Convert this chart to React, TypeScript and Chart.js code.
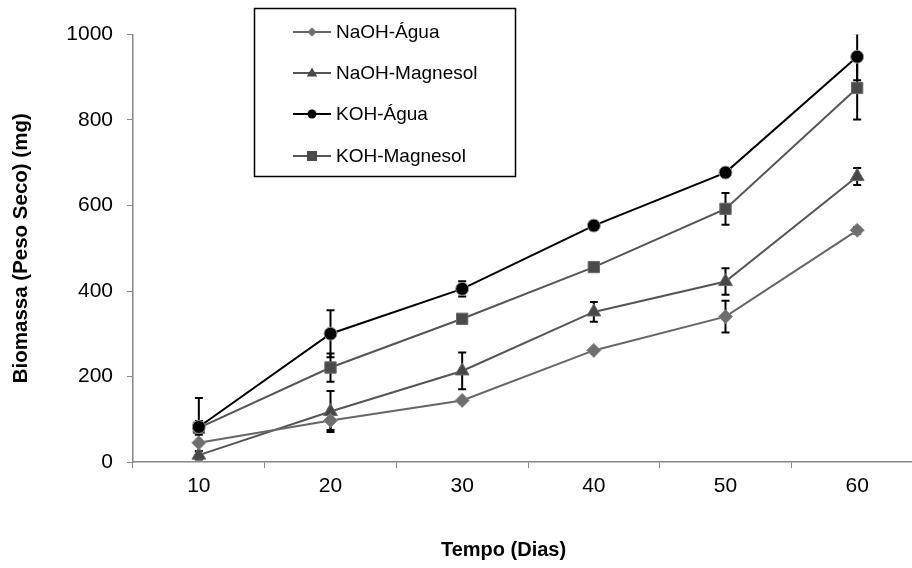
import React, { useEffect, useRef } from "react";
import { Chart, registerables } from "chart.js";

Chart.register(...registerables);

const days = ["10", "20", "30", "40", "50", "60"];
const yTicks = [0, 200, 400, 600, 800, 1000];

const naohAgua = [45, 97, 144, 261, 340, 542];
const naohAguaErr = [0, 22, 0, 0, 37, 8];
const naohMagnesol = [16, 118, 213, 351, 422, 668];
const naohMagnesolErr = [10, 48, 43, 23, 31, 20];
const kohAgua = [82, 300, 405, 553, 677, 948];
const kohAguaErr = [68, 55, 18, 10, 10, 55];
const kohMagnesol = [80, 221, 335, 456, 592, 875];
const kohMagnesolErr = [16, 33, 0, 10, 37, 74];

const FONT = "'Liberation Sans', Arial, sans-serif";
const CANVAS_W = 924;
const CANVAS_H = 568;

const errorBarPlugin = {
  id: "errorBars",
  beforeDatasetsDraw(chart: any) {
    const { ctx, chartArea } = chart;
    const yScale = chart.scales.y;
    ctx.save();
    ctx.beginPath();
    ctx.rect(chartArea.left, chartArea.top, chartArea.right - chartArea.left, chartArea.bottom - chartArea.top);
    ctx.clip();
    ctx.strokeStyle = "#000";
    ctx.lineWidth = 2;
    chart.data.datasets.forEach((ds: any, i: number) => {
      const meta = chart.getDatasetMeta(i);
      const errs: number[] = ds.errors || [];
      meta.data.forEach((pt: any, j: number) => {
        const e = errs[j];
        if (!e) return;
        const v = ds.data[j];
        const x = pt.x;
        const yt = yScale.getPixelForValue(v + e);
        const yb = yScale.getPixelForValue(v - e);
        ctx.beginPath();
        ctx.moveTo(x, yt);
        ctx.lineTo(x, yb);
        ctx.moveTo(x - 4, yt);
        ctx.lineTo(x + 4, yt);
        ctx.moveTo(x - 4, yb);
        ctx.lineTo(x + 4, yb);
        ctx.stroke();
      });
    });
    ctx.restore();
  },
};

function drawMarker(ctx: CanvasRenderingContext2D, style: string, x: number, y: number, r: number) {
  ctx.beginPath();
  if (style === "circle") {
    ctx.arc(x, y, r, 0, Math.PI * 2);
  } else if (style === "rect") {
    ctx.rect(x - r, y - r, 2 * r, 2 * r);
  } else if (style === "rectRot") {
    ctx.moveTo(x - r, y);
    ctx.lineTo(x, y - r);
    ctx.lineTo(x + r, y);
    ctx.lineTo(x, y + r);
    ctx.closePath();
  } else if (style === "triangle") {
    ctx.moveTo(x, y - r);
    ctx.lineTo(x + r * 0.95, y + r * 0.65);
    ctx.lineTo(x - r * 0.95, y + r * 0.65);
    ctx.closePath();
  }
  ctx.fill();
}

const legendPlugin = {
  id: "boxLegend",
  afterDraw(chart: any) {
    const { ctx } = chart;
    ctx.save();
    ctx.fillStyle = "#fff";
    ctx.fillRect(254.5, 8.5, 261, 168);
    ctx.strokeStyle = "#000";
    ctx.lineWidth = 1.5;
    ctx.strokeRect(254.5, 8.5, 261, 168);
    const rows = [32, 73, 114, 156];
    const sizes = [4.5, 5.5, 4.5, 5];
    chart.data.datasets.forEach((ds: any, i: number) => {
      const y = rows[i];
      ctx.strokeStyle = ds.borderColor;
      ctx.lineWidth = 2;
      ctx.beginPath();
      ctx.moveTo(293, y);
      ctx.lineTo(331, y);
      ctx.stroke();
      ctx.fillStyle = ds.pointBackgroundColor;
      drawMarker(ctx, ds.pointStyle, 312, y, sizes[i]);
      ctx.fillStyle = "#000";
      ctx.font = `19px ${FONT}`;
      ctx.textAlign = "left";
      ctx.textBaseline = "middle";
      ctx.fillText(ds.label, 336, y + 1);
    });
    ctx.fillStyle = "#000";
    ctx.font = `bold 20px ${FONT}`;
    ctx.textAlign = "center";
    ctx.textBaseline = "middle";
    ctx.fillText("Tempo (Dias)", 503.5, 550);
    ctx.restore();
  },
};

export default function App() {
  const ref = useRef<HTMLCanvasElement | null>(null);

  useEffect(() => {
    if (!ref.current) return;
    const chart = new Chart(ref.current, {
      type: "line",
      data: {
        labels: days,
        datasets: [
          {
            label: "NaOH-Água",
            data: naohAgua,
            errors: naohAguaErr,
            borderColor: "#666666",
            borderWidth: 2,
            pointStyle: "rectRot",
            pointRadius: 7,
            pointBackgroundColor: "#6e6e6e",
            pointBorderColor: "#8a8a8a",
            pointBorderWidth: 1,
          } as any,
          {
            label: "NaOH-Magnesol",
            data: naohMagnesol,
            errors: naohMagnesolErr,
            borderColor: "#555555",
            borderWidth: 2,
            pointStyle: "triangle",
            pointRadius: 8,
            pointBackgroundColor: "#474747",
            pointBorderColor: "#6a6a6a",
            pointBorderWidth: 1,
          } as any,
          {
            label: "KOH-Água",
            data: kohAgua,
            errors: kohAguaErr,
            borderColor: "#000000",
            borderWidth: 2,
            pointStyle: "circle",
            pointRadius: 6.5,
            pointBackgroundColor: "#000000",
            pointBorderColor: "#999999",
            pointBorderWidth: 1,
          } as any,
          {
            label: "KOH-Magnesol",
            data: kohMagnesol,
            errors: kohMagnesolErr,
            borderColor: "#555555",
            borderWidth: 2,
            pointStyle: "rect",
            pointRadius: 8,
            pointBackgroundColor: "#4a4a4a",
            pointBorderColor: "#6a6a6a",
            pointBorderWidth: 1,
          } as any,
        ],
      },
      options: {
        animation: false,
        responsive: false,
        devicePixelRatio: 1,
        layout: { autoPadding: false, padding: { top: 34.5, right: 1, bottom: 46, left: 0 } },
        plugins: {
          legend: { display: false },
          tooltip: { enabled: false },
        },
        scales: {
          x: {
            type: "category",
            offset: true,
            grid: {
              offset: true,
              drawOnChartArea: false,
              drawTicks: true,
              tickLength: 6,
              color: "#888888",
            },
            border: { color: "#888888", width: 1.5 },
            ticks: {
              color: "#000",
              font: { family: FONT, size: 21 },
              padding: 6,
            },
            afterFit(scale: any) {
              scale.height = 60;
              scale.paddingLeft = 0;
              scale.paddingRight = 0;
            },
          },
          y: {
            min: 0,
            max: 1000,
            grid: {
              drawOnChartArea: false,
              drawTicks: true,
              tickLength: 6,
              color: "#888888",
            },
            border: { color: "#888888", width: 1.5 },
            ticks: {
              color: "#000",
              font: { family: FONT, size: 21 },
              padding: 14,
              callback: (v: any) => String(v),
            },
            afterBuildTicks(scale: any) {
              scale.ticks = yTicks.map((v) => ({ value: v }));
            },
            afterFit(scale: any) {
              scale.width = 133;
            },
            title: {
              display: true,
              text: "Biomassa (Peso Seco) (mg)",
              color: "#000",
              font: { family: FONT, size: 20.5, weight: "bold" },
              padding: { top: 9, bottom: 0 },
            },
          },
        },
      },
      plugins: [errorBarPlugin, legendPlugin],
    } as any);
    return () => chart.destroy();
  }, []);

  return (
    <div style={{ position: "absolute", left: 0, top: 0, width: 912, height: 568, overflow: "hidden", background: "#fff" }}>
      <canvas ref={ref} width={CANVAS_W} height={CANVAS_H} style={{ display: "block", width: CANVAS_W, height: CANVAS_H }} />
    </div>
  );
}
